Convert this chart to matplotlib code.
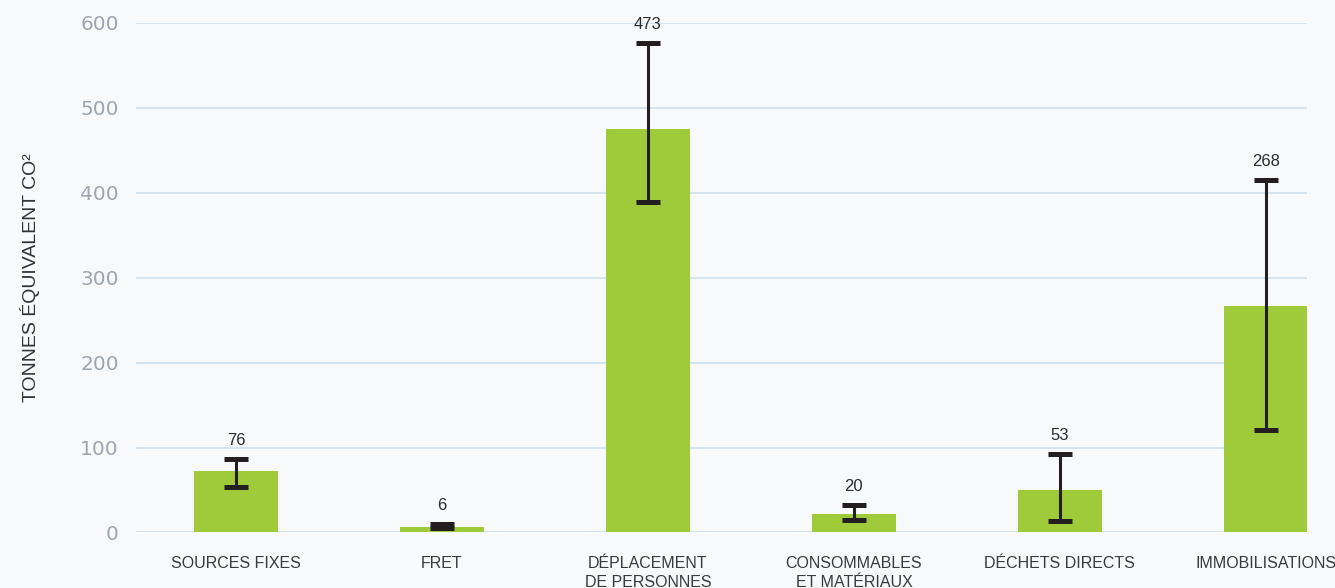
import numpy as np
import matplotlib.pyplot as plt
from matplotlib import font_manager

# data
categories = ['SOURCES FIXES', 'FRET', 'DÉPLACEMENT\nDE PERSONNES',
              'CONSOMMABLES\nET MATÉRIAUX', 'DÉCHETS DIRECTS', 'IMMOBILISATIONS']
bar_heights = [72, 7, 475, 22, 50, 267]
value_labels = ['76', '6', '473', '20', '53', '268']
err_low = [53, 9, 389, 15, 13, 121]
err_high = [86, 10, 576, 32, 92, 415]

names = {f.name for f in font_manager.fontManager.ttflist}
narrow = 'Liberation Sans Narrow' if 'Liberation Sans Narrow' in names else 'Liberation Sans'

bg = '#F8F9FB'
green = '#9FCB3B'
dark = '#231F20'

fig = plt.figure(figsize=(13.35, 5.88), dpi=100, facecolor=bg)
ax = fig.add_axes([0.102, 0.0944, 0.877, 0.867], facecolor=bg)

x = np.arange(len(categories))
heights = np.array(bar_heights)
yerr = [np.abs(heights - np.array(err_low)), np.abs(np.array(err_high) - heights)]

ax.bar(x, heights, width=0.41, color=green, zorder=2)
ax.errorbar(x, heights, yerr=yerr, fmt='none',
            ecolor=dark, elinewidth=2.2, capsize=8.3, capthick=3.6, zorder=3)

# value labels sit just above the upper cap
for xi, top, lab in zip(x, err_high, value_labels):
    ax.annotate(lab, (xi, top), xytext=(0, 13.5), textcoords='offset points',
                ha='center', va='center', fontsize=12, color='#2b2b2b',
                family='Liberation Sans', annotation_clip=False)

ax.set_xlim(-0.485, 5.2)
ax.set_ylim(0, 600)
ax.set_yticks([0, 100, 200, 300, 400, 500, 600])
ax.grid(axis='y', color='#D5E3EE', linewidth=1.5, zorder=0)
ax.set_axisbelow(True)
for s in ax.spines.values():
    s.set_visible(False)

ax.set_xticks(x)
ax.set_xticklabels(categories, fontsize=11.5, color='#3a3a3a', family=narrow,
                   linespacing=1.3)
ax.tick_params(axis='x', length=0, pad=17)
ax.tick_params(axis='y', length=0, pad=12.5, labelsize=14.5, labelcolor='#9DA6AF')

ax.set_ylabel('TONNES ÉQUIVALENT CO²', fontsize=14, color='#333333', family=narrow,
              labelpad=0)
ax.yaxis.set_label_coords(-0.082, 0.5)

fig.savefig('out.png', dpi=100, facecolor=bg)
